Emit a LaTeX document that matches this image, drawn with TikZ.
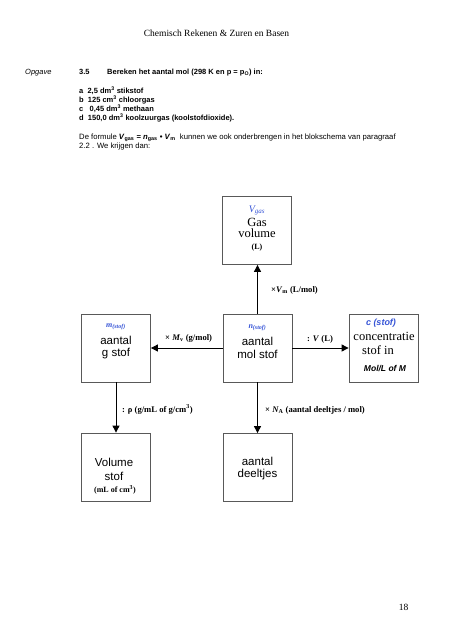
\documentclass[tikz,border=0pt]{standalone}
\usepackage{fontspec}
\setmainfont{Liberation Serif}
\setsansfont{Liberation Sans}
\usetikzlibrary{arrows.meta}
\definecolor{lblblue}{RGB}{55,85,215}
\begin{document}
\begin{tikzpicture}[x=1pt,y=-1pt,
  box/.style={draw=black!65, line width=0.8pt, minimum width=69pt, minimum height=68pt, inner sep=0pt, fill=white},
  conn/.style={-{Triangle[length=7pt,width=7pt]}, line width=0.9pt},
  txt/.style={inner sep=0pt, anchor=base},
  body/.style={inner sep=0pt, anchor=base west, font=\sffamily\fontsize{7.7}{9}\selectfont},
  bodyb/.style={body, font=\sffamily\bfseries\fontsize{7.5}{9}\selectfont},
  sbox/.style={txt, font=\sffamily\fontsize{11.5}{13}\selectfont},
  rbox/.style={txt, font=\rmfamily\fontsize{12.5}{14}\selectfont},
  small/.style={txt, font=\rmfamily\bfseries\fontsize{8}{9}\selectfont},
  blue/.style={txt, text=lblblue, font=\rmfamily\bfseries\itshape\fontsize{8}{9}\selectfont},
  alabel/.style={inner sep=0pt, anchor=base west, font=\rmfamily\bfseries\fontsize{8.6}{10}\selectfont},
]
\useasboundingbox[fill=white] (0,0) rectangle (465,640);

% header and text
\node[txt, font=\rmfamily\fontsize{9.5}{11}\selectfont] (title) at (216.5,36) {Chemisch Rekenen \& Zuren en Basen};
\node[body, font=\sffamily\itshape\fontsize{7.5}{9}\selectfont] (opg) at (25,74) {Opgave};
\node[bodyb] (nr) at (79,74) {3.5};
\node[bodyb] (q) at (107,74) {Bereken het aantal mol (298 K en p = p\textsubscript{O}) in:};
\node[bodyb] (la) at (79,93.5) {a\ \ 2,5 dm\textsuperscript{3} stikstof};
\node[bodyb] (lb) at (79,102.5) {b\ \ 125 cm\textsuperscript{3} chloorgas};
\node[bodyb] (lc) at (79,111.5) {c\ \ \ 0,45 dm\textsuperscript{3} methaan};
\node[bodyb] (ld) at (79,120.5) {d\ \ 150,0 dm\textsuperscript{3} koolzuurgas (koolstofdioxide).};
\node[body] (f1) at (79,139.5) {De formule \textbf{\textit{V}\textsubscript{gas} = \textit{n}\textsubscript{gas} • \textit{V}\textsubscript{m}}\ \ kunnen we ook onderbrengen in het blokschema van paragraaf};
\node[body] (f2) at (79,148.5) {2.2 . We krijgen dan:};

% boxes
\node[box] (gas) at (257,230.5) {};
\node[box] (mol) at (257.5,348) {};
\node[box] (m) at (116,348) {};
\node[box] (c) at (383.5,348) {};
\node[box] (vol) at (116,467) {};
\node[box] (dl) at (257.5,467.5) {};

% gas box text
\node[txt, text=lblblue, font=\rmfamily\itshape\fontsize{10}{11}\selectfont] (gas1) at (257,212) {V\textsubscript{gas}};
\node[rbox] (gas2) at (257,226.5) {Gas};
\node[rbox] (gas3) at (257,237.5) {volume};
\node[small] (gas4) at (257,249.5) {(L)};

% m box text
\node[blue] (m1) at (116,327.5) {m\textsubscript{(stof)}};
\node[sbox] (m2) at (116,344.5) {aantal};
\node[sbox] (m3) at (116,356.5) {g stof};

% mol box text
\node[blue] (n1) at (257.5,328.5) {n\textsubscript{(stof)}};
\node[sbox] (n2) at (257.5,345.5) {aantal};
\node[sbox] (n3) at (257.5,358.5) {mol stof};

% c box text
\node[txt, text=lblblue, font=\sffamily\bfseries\itshape\fontsize{9}{10}\selectfont] (c1) at (381,325.5) {c (stof)};
\node[rbox] (c2) at (384,340.5) {concentratie};
\node[rbox] (c3) at (378,354.5) {stof in};
\node[txt, font=\sffamily\bfseries\itshape\fontsize{8.5}{10}\selectfont] (c4) at (385,371) {Mol/L of M};

% volume box text
\node[sbox] (v1) at (114,466.5) {Volume};
\node[sbox] (v2) at (114,480.5) {stof};
\node[small] (v3) at (115,492.5) {(mL of cm\textsuperscript{3})};

% deeltjes box text
\node[sbox] (d1) at (257.5,465.5) {aantal};
\node[sbox] (d2) at (257.5,477.5) {deeltjes};

% connectors
\draw[conn] (mol.north) -- (mol.north |- gas.south);
\draw[conn] (mol.west) -- (m.east);
\draw[conn] (mol.east) -- (c.west);
\draw[conn] (m.south) -- (vol.north);
\draw[conn] (mol.south) -- (dl.north);

% connector labels
\node[alabel] (lvm) at (271,292.5) {×\textit{V}\textsubscript{m} (L/mol)};
\node[alabel] (lmv) at (165,340.5) {× \textit{M}\textsubscript{v} (g/mol)};
\node[alabel] (lv) at (307,341.5) {: \textit{V} (L)};
\node[alabel] (lrho) at (122,412) {: ρ (g/mL of g/cm\textsuperscript{3})};
\node[alabel] (lna) at (265,412) {× \textit{N}\textsubscript{A} (aantal deeltjes / mol)};

% page number
\node[txt, font=\rmfamily\fontsize{9.5}{11}\selectfont] (pg) at (403.5,610) {18};
\end{tikzpicture}
\end{document}
